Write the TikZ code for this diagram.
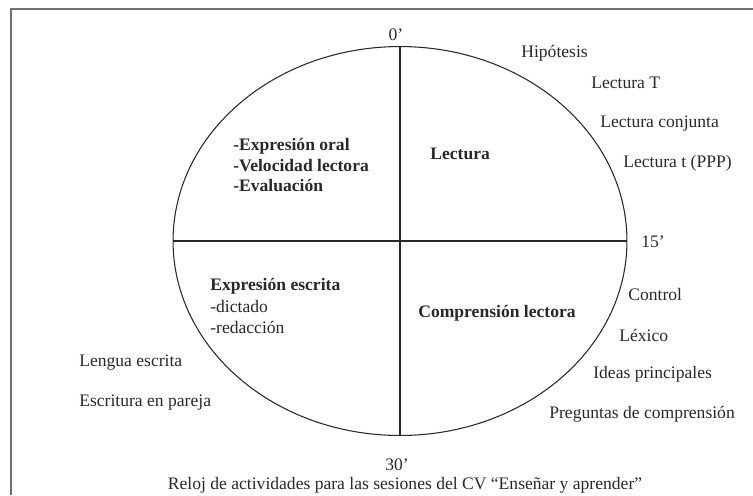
\documentclass[tikz,border=0pt]{standalone}
\usepackage{fontspec}
\setmainfont{Liberation Serif}
\usetikzlibrary{shapes.geometric,positioning}
\definecolor{framegray}{RGB}{112,112,112}
\definecolor{inkgray} {RGB}{40,40,40}

\begin{document}
\begin{tikzpicture}[
  x=0.02cm, y=-0.02cm,
  every node/.style={font=\fontsize{10}{12}\selectfont,text=inkgray},
  reloj/.style={draw=inkgray,ellipse,line width=0.6pt,inner sep=0pt,
                minimum width=9.08cm,minimum height=7.78cm},
  eje/.style={draw=inkgray,line width=0.6pt},
  actividad/.style={anchor=west,inner sep=0pt},
  bloque/.style={anchor=west,inner sep=0pt,align=left,font=\fontsize{10}{11.6}\selectfont\bfseries},
  minuto/.style={inner sep=0pt},
]
\useasboundingbox (0,0) rectangle (753,495);

%% ── Frame ───────────────────────────────────────────────────────────────────
\draw[framegray,line width=0.9pt] (11,495) -- (11,9) -- (753,9);

%% ── Clock face ──────────────────────────────────────────────────────────────
\node[reloj] (clock) at (400,241) {};
\draw[eje] (clock.north) -- (clock.south);
\draw[eje] (clock.west) -- (clock.east);

%% minute marks
\node[minuto] (m0)  at (396,35)  {0’};
\node[minuto,anchor=west] (m15) at (641,242) {15’};
\node[minuto] (m30) at (397,465) {30’};

%% ── Quadrants ───────────────────────────────────────────────────────────────
\node[bloque] (oral) at (233,165)
  {-Expresión oral\\-Velocidad lectora\\-Evaluación};
\node[bloque] (lect) at (430,154) {Lectura};
\node[anchor=west,inner sep=0pt,align=left] (escr) at (210,306)
  {\textbf{Expresión escrita}\\-dictado\\-redacción};
\node[bloque] (compr) at (418,313) {Comprensión lectora};

%% ── Activities round the clock ──────────────────────────────────────────────
\node[actividad] (hip)  at (521,53)  {Hipótesis};
\node[actividad] (lT)   at (591,83)  {Lectura T};
\node[actividad] (lcon) at (600,124) {Lectura conjunta};
\node[actividad] (lppp) at (623,163) {Lectura t (PPP)};

\node[actividad] (ctrl) at (628,294) {Control};
\node[actividad] (lex)  at (619,335) {Léxico};
\node[actividad] (ideas) at (593,374) {Ideas principales};
\node[actividad] (preg) at (549,414) {Preguntas de comprensión};

\node[actividad] (leng) at (79,363) {Lengua escrita};
\node[actividad] (pareja) at (79,403) {Escritura en pareja};

%% ── Caption ─────────────────────────────────────────────────────────────────
\node[minuto] (cap) at (405,485)
  {Reloj de actividades para las sesiones del CV “Enseñar y aprender”};

\end{tikzpicture}
\end{document}
